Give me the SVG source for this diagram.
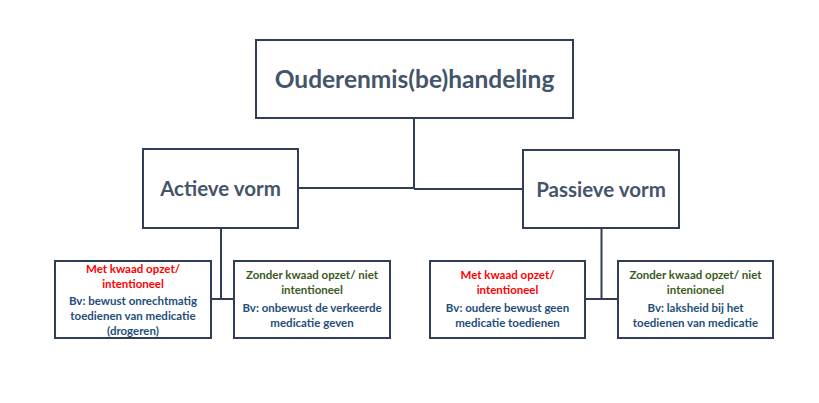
<svg xmlns="http://www.w3.org/2000/svg" width="819" height="403" viewBox="0 0 819 403">
<style>
.box{fill:#fff;stroke:#2F3E55;stroke-width:2}
.ln{fill:none;stroke:#2F3E55;stroke-width:2}
text{font-family:Lato,"Open Sans","Liberation Sans",sans-serif;font-weight:bold;text-anchor:middle}
.h{fill:#44546A}
.r{fill:#FF0000;font-size:11.5px}
.g{fill:#3A5A1E;font-size:11.5px}
.b{fill:#1F4E79;font-size:11.5px}
</style>
<rect width="819" height="403" fill="#fff"/>
<g id="connectors">
<path class="ln" d="M414 118V189M298 188H414M414 189H523"/>
<path class="ln" d="M221 228V299M211 299H234"/>
<path class="ln" d="M601.5 228V299M585 299H618"/>
</g>
<g id="root"><rect class="box" x="256" y="40" width="317" height="78"/><text class="h" x="414.5" y="88" font-size="24.5">Ouderenmis(be)handeling</text></g>
<g id="actief"><rect class="box" x="143" y="149" width="155" height="79"/><text class="h" x="220.5" y="196" font-size="20.5">Actieve vorm</text></g>
<g id="passief"><rect class="box" x="523" y="150" width="156" height="78"/><text class="h" x="601" y="197" font-size="20.5">Passieve vorm</text></g>
<g id="a1"><rect class="box" x="55" y="261" width="156" height="77"/>
<text class="r" x="133" y="273">Met kwaad opzet/</text><text class="r" x="133" y="288">intentioneel</text>
<text class="b" x="133" y="305">Bv: bewust onrechtmatig</text><text class="b" x="133" y="320">toedienen van medicatie</text><text class="b" x="133" y="335">(drogeren)</text></g>
<g id="a2"><rect class="box" x="234" y="261" width="156" height="77"/>
<text class="g" x="312" y="279">Zonder kwaad opzet/ niet</text><text class="g" x="312" y="294">intentioneel</text>
<text class="b" x="312" y="312">Bv: onbewust de verkeerde</text><text class="b" x="312" y="327">medicatie geven</text></g>
<g id="p1"><rect class="box" x="430" y="261" width="155" height="77"/>
<text class="r" x="507.5" y="279">Met kwaad opzet/</text><text class="r" x="507.5" y="294">intentioneel</text>
<text class="b" x="507.5" y="312">Bv: oudere bewust geen</text><text class="b" x="507.5" y="327">medicatie toedienen</text></g>
<g id="p2"><rect class="box" x="618" y="261" width="155" height="77"/>
<text class="g" x="695.5" y="279">Zonder kwaad opzet/ niet</text><text class="g" x="695.5" y="294">intenioneel</text>
<text class="b" x="695.5" y="312">Bv: laksheid bij het</text><text class="b" x="695.5" y="327">toedienen van medicatie</text></g>
</svg>
